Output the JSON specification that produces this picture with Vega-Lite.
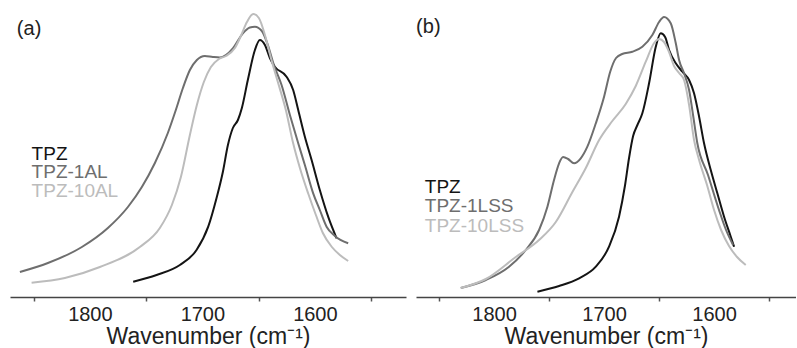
{
  "$schema": "https://vega.github.io/schema/vega-lite/v6.json",
  "padding": {"left": 10, "top": 0, "right": 0, "bottom": 0},
  "background": "white",
  "config": {
    "view": {"stroke": null},
    "font": "Liberation Sans",
    "axis": {"grid": false}
  },
  "spacing": 10,
  "resolve": {"scale": {"color": "independent"}},
  "datasets": {
    "a": [
      {"s": "TPZ", "w": 1761.5, "a": 0.153},
      {"s": "TPZ", "w": 1740.7, "a": 0.22},
      {"s": "TPZ", "w": 1720, "a": 0.32},
      {"s": "TPZ", "w": 1705.2, "a": 0.47},
      {"s": "TPZ", "w": 1694.8, "a": 0.703},
      {"s": "TPZ", "w": 1687.4, "a": 0.99},
      {"s": "TPZ", "w": 1681.8, "a": 1.25},
      {"s": "TPZ", "w": 1677.3, "a": 1.52},
      {"s": "TPZ", "w": 1672.9, "a": 1.69},
      {"s": "TPZ", "w": 1668.4, "a": 1.77},
      {"s": "TPZ", "w": 1664.9, "a": 1.89},
      {"s": "TPZ", "w": 1659.6, "a": 2.17},
      {"s": "TPZ", "w": 1653.3, "a": 2.47},
      {"s": "TPZ", "w": 1648.9, "a": 2.57},
      {"s": "TPZ", "w": 1644.4, "a": 2.52},
      {"s": "TPZ", "w": 1640, "a": 2.39},
      {"s": "TPZ", "w": 1635.6, "a": 2.303},
      {"s": "TPZ", "w": 1625.2, "a": 2.203},
      {"s": "TPZ", "w": 1619.3, "a": 2.07},
      {"s": "TPZ", "w": 1614.8, "a": 1.87},
      {"s": "TPZ", "w": 1608.9, "a": 1.603},
      {"s": "TPZ", "w": 1602.9, "a": 1.37},
      {"s": "TPZ", "w": 1595.6, "a": 1.07},
      {"s": "TPZ", "w": 1588.2, "a": 0.803},
      {"s": "TPZ", "w": 1580.7, "a": 0.587},
      {"s": "TPZ-1AL", "w": 1862.2, "a": 0.25},
      {"s": "TPZ-1AL", "w": 1837.3, "a": 0.34},
      {"s": "TPZ-1AL", "w": 1807.1, "a": 0.5},
      {"s": "TPZ-1AL", "w": 1784, "a": 0.69},
      {"s": "TPZ-1AL", "w": 1766.2, "a": 0.9},
      {"s": "TPZ-1AL", "w": 1753.8, "a": 1.1},
      {"s": "TPZ-1AL", "w": 1742.2, "a": 1.34},
      {"s": "TPZ-1AL", "w": 1730.7, "a": 1.64},
      {"s": "TPZ-1AL", "w": 1723.6, "a": 1.87},
      {"s": "TPZ-1AL", "w": 1717.3, "a": 2.09},
      {"s": "TPZ-1AL", "w": 1711.1, "a": 2.27},
      {"s": "TPZ-1AL", "w": 1704.9, "a": 2.37},
      {"s": "TPZ-1AL", "w": 1697.8, "a": 2.41},
      {"s": "TPZ-1AL", "w": 1690.7, "a": 2.4},
      {"s": "TPZ-1AL", "w": 1684.4, "a": 2.395},
      {"s": "TPZ-1AL", "w": 1679.1, "a": 2.42},
      {"s": "TPZ-1AL", "w": 1672.9, "a": 2.487},
      {"s": "TPZ-1AL", "w": 1664, "a": 2.637},
      {"s": "TPZ-1AL", "w": 1657.8, "a": 2.695},
      {"s": "TPZ-1AL", "w": 1653.3, "a": 2.703},
      {"s": "TPZ-1AL", "w": 1647.1, "a": 2.66},
      {"s": "TPZ-1AL", "w": 1641.8, "a": 2.52},
      {"s": "TPZ-1AL", "w": 1636.4, "a": 2.32},
      {"s": "TPZ-1AL", "w": 1629.6, "a": 2.12},
      {"s": "TPZ-1AL", "w": 1622.2, "a": 1.82},
      {"s": "TPZ-1AL", "w": 1614.8, "a": 1.537},
      {"s": "TPZ-1AL", "w": 1608.9, "a": 1.32},
      {"s": "TPZ-1AL", "w": 1601.5, "a": 1.037},
      {"s": "TPZ-1AL", "w": 1595.6, "a": 0.87},
      {"s": "TPZ-1AL", "w": 1589.6, "a": 0.703},
      {"s": "TPZ-1AL", "w": 1582.2, "a": 0.61},
      {"s": "TPZ-1AL", "w": 1570.4, "a": 0.537},
      {"s": "TPZ-10AL", "w": 1851.8, "a": 0.143},
      {"s": "TPZ-10AL", "w": 1822.2, "a": 0.19},
      {"s": "TPZ-10AL", "w": 1791.1, "a": 0.3},
      {"s": "TPZ-10AL", "w": 1755.6, "a": 0.5},
      {"s": "TPZ-10AL", "w": 1737.8, "a": 0.69},
      {"s": "TPZ-10AL", "w": 1727.1, "a": 0.92},
      {"s": "TPZ-10AL", "w": 1719.1, "a": 1.2},
      {"s": "TPZ-10AL", "w": 1711.1, "a": 1.62},
      {"s": "TPZ-10AL", "w": 1704.9, "a": 1.92},
      {"s": "TPZ-10AL", "w": 1698.7, "a": 2.15},
      {"s": "TPZ-10AL", "w": 1692.4, "a": 2.3},
      {"s": "TPZ-10AL", "w": 1685.3, "a": 2.38},
      {"s": "TPZ-10AL", "w": 1679.1, "a": 2.41},
      {"s": "TPZ-10AL", "w": 1671.1, "a": 2.49},
      {"s": "TPZ-10AL", "w": 1665.8, "a": 2.61},
      {"s": "TPZ-10AL", "w": 1660.4, "a": 2.75},
      {"s": "TPZ-10AL", "w": 1654.8, "a": 2.83},
      {"s": "TPZ-10AL", "w": 1649.8, "a": 2.79},
      {"s": "TPZ-10AL", "w": 1644.4, "a": 2.62},
      {"s": "TPZ-10AL", "w": 1639.1, "a": 2.39},
      {"s": "TPZ-10AL", "w": 1632.9, "a": 2.15},
      {"s": "TPZ-10AL", "w": 1625.8, "a": 1.87},
      {"s": "TPZ-10AL", "w": 1619.3, "a": 1.537},
      {"s": "TPZ-10AL", "w": 1613.3, "a": 1.29},
      {"s": "TPZ-10AL", "w": 1606, "a": 1.037},
      {"s": "TPZ-10AL", "w": 1599.1, "a": 0.82},
      {"s": "TPZ-10AL", "w": 1592.9, "a": 0.64},
      {"s": "TPZ-10AL", "w": 1584.9, "a": 0.5},
      {"s": "TPZ-10AL", "w": 1577.8, "a": 0.42},
      {"s": "TPZ-10AL", "w": 1570.4, "a": 0.36}
    ],
    "aLab": [
      {"s": "TPZ", "w": 1851.8, "a": 1.37},
      {"s": "TPZ-1AL", "w": 1851.8, "a": 1.187},
      {"s": "TPZ-10AL", "w": 1851.8, "a": 1.003}
    ],
    "aTag": [{"t": "(a)", "w": 1864.9, "a": 2.68}],
    "b": [
      {"s": "TPZ", "w": 1760.6, "a": 0.053},
      {"s": "TPZ", "w": 1740.9, "a": 0.11},
      {"s": "TPZ", "w": 1722.7, "a": 0.187},
      {"s": "TPZ", "w": 1707.5, "a": 0.303},
      {"s": "TPZ", "w": 1695.5, "a": 0.503},
      {"s": "TPZ", "w": 1686.4, "a": 0.803},
      {"s": "TPZ", "w": 1680.9, "a": 1.12},
      {"s": "TPZ", "w": 1677.3, "a": 1.39},
      {"s": "TPZ", "w": 1673.6, "a": 1.61},
      {"s": "TPZ", "w": 1669.7, "a": 1.72},
      {"s": "TPZ", "w": 1665.2, "a": 1.837},
      {"s": "TPZ", "w": 1659.1, "a": 2.137},
      {"s": "TPZ", "w": 1653, "a": 2.503},
      {"s": "TPZ", "w": 1648.5, "a": 2.637},
      {"s": "TPZ", "w": 1644.5, "a": 2.6},
      {"s": "TPZ", "w": 1640.9, "a": 2.47},
      {"s": "TPZ", "w": 1634.8, "a": 2.337},
      {"s": "TPZ", "w": 1628.8, "a": 2.253},
      {"s": "TPZ", "w": 1622.7, "a": 2.17},
      {"s": "TPZ", "w": 1618.2, "a": 2.037},
      {"s": "TPZ", "w": 1613.6, "a": 1.803},
      {"s": "TPZ", "w": 1609.1, "a": 1.537},
      {"s": "TPZ", "w": 1603, "a": 1.27},
      {"s": "TPZ", "w": 1597, "a": 1.037},
      {"s": "TPZ", "w": 1590.9, "a": 0.803},
      {"s": "TPZ", "w": 1584.8, "a": 0.603},
      {"s": "TPZ", "w": 1581.8, "a": 0.503},
      {"s": "TPZ-1LSS", "w": 1830.3, "a": 0.09},
      {"s": "TPZ-1LSS", "w": 1807.5, "a": 0.17},
      {"s": "TPZ-1LSS", "w": 1786.4, "a": 0.303},
      {"s": "TPZ-1LSS", "w": 1771.2, "a": 0.47},
      {"s": "TPZ-1LSS", "w": 1759.1, "a": 0.67},
      {"s": "TPZ-1LSS", "w": 1751.5, "a": 0.903},
      {"s": "TPZ-1LSS", "w": 1745.5, "a": 1.17},
      {"s": "TPZ-1LSS", "w": 1740.9, "a": 1.337},
      {"s": "TPZ-1LSS", "w": 1737.3, "a": 1.4},
      {"s": "TPZ-1LSS", "w": 1732.7, "a": 1.38},
      {"s": "TPZ-1LSS", "w": 1727.3, "a": 1.337},
      {"s": "TPZ-1LSS", "w": 1721.2, "a": 1.387},
      {"s": "TPZ-1LSS", "w": 1715.2, "a": 1.503},
      {"s": "TPZ-1LSS", "w": 1707.5, "a": 1.737},
      {"s": "TPZ-1LSS", "w": 1700, "a": 2.003},
      {"s": "TPZ-1LSS", "w": 1694.5, "a": 2.25},
      {"s": "TPZ-1LSS", "w": 1689.1, "a": 2.39},
      {"s": "TPZ-1LSS", "w": 1683.6, "a": 2.43},
      {"s": "TPZ-1LSS", "w": 1674.3, "a": 2.453},
      {"s": "TPZ-1LSS", "w": 1665.2, "a": 2.503},
      {"s": "TPZ-1LSS", "w": 1656.1, "a": 2.62},
      {"s": "TPZ-1LSS", "w": 1650, "a": 2.75},
      {"s": "TPZ-1LSS", "w": 1645.5, "a": 2.8},
      {"s": "TPZ-1LSS", "w": 1639.4, "a": 2.737},
      {"s": "TPZ-1LSS", "w": 1634.8, "a": 2.537},
      {"s": "TPZ-1LSS", "w": 1631.8, "a": 2.37},
      {"s": "TPZ-1LSS", "w": 1627.3, "a": 2.237},
      {"s": "TPZ-1LSS", "w": 1622.7, "a": 2.07},
      {"s": "TPZ-1LSS", "w": 1619.1, "a": 1.82},
      {"s": "TPZ-1LSS", "w": 1615.2, "a": 1.537},
      {"s": "TPZ-1LSS", "w": 1605.5, "a": 1.22},
      {"s": "TPZ-1LSS", "w": 1595.5, "a": 0.87},
      {"s": "TPZ-1LSS", "w": 1589.1, "a": 0.67},
      {"s": "TPZ-1LSS", "w": 1582.7, "a": 0.52},
      {"s": "TPZ-10LSS", "w": 1830.3, "a": 0.09},
      {"s": "TPZ-10LSS", "w": 1807.5, "a": 0.18},
      {"s": "TPZ-10LSS", "w": 1780.3, "a": 0.4},
      {"s": "TPZ-10LSS", "w": 1759.1, "a": 0.57},
      {"s": "TPZ-10LSS", "w": 1743.9, "a": 0.75},
      {"s": "TPZ-10LSS", "w": 1728.8, "a": 1.05},
      {"s": "TPZ-10LSS", "w": 1716.6, "a": 1.29},
      {"s": "TPZ-10LSS", "w": 1704.5, "a": 1.57},
      {"s": "TPZ-10LSS", "w": 1692.5, "a": 1.76},
      {"s": "TPZ-10LSS", "w": 1680.3, "a": 1.93},
      {"s": "TPZ-10LSS", "w": 1671.2, "a": 2.11},
      {"s": "TPZ-10LSS", "w": 1662.1, "a": 2.353},
      {"s": "TPZ-10LSS", "w": 1654.5, "a": 2.54},
      {"s": "TPZ-10LSS", "w": 1650, "a": 2.58},
      {"s": "TPZ-10LSS", "w": 1645.5, "a": 2.55},
      {"s": "TPZ-10LSS", "w": 1640.9, "a": 2.45},
      {"s": "TPZ-10LSS", "w": 1636.4, "a": 2.31},
      {"s": "TPZ-10LSS", "w": 1631.8, "a": 2.24},
      {"s": "TPZ-10LSS", "w": 1627.3, "a": 2.17},
      {"s": "TPZ-10LSS", "w": 1622.7, "a": 1.92},
      {"s": "TPZ-10LSS", "w": 1618.2, "a": 1.57},
      {"s": "TPZ-10LSS", "w": 1613.6, "a": 1.37},
      {"s": "TPZ-10LSS", "w": 1606.4, "a": 1.12},
      {"s": "TPZ-10LSS", "w": 1600, "a": 0.87},
      {"s": "TPZ-10LSS", "w": 1593.6, "a": 0.67},
      {"s": "TPZ-10LSS", "w": 1586.4, "a": 0.51},
      {"s": "TPZ-10LSS", "w": 1579.1, "a": 0.4},
      {"s": "TPZ-10LSS", "w": 1571.2, "a": 0.32}
    ],
    "bLab": [
      {"s": "TPZ", "w": 1863, "a": 1.037},
      {"s": "TPZ-1LSS", "w": 1863, "a": 0.853},
      {"s": "TPZ-10LSS", "w": 1863, "a": 0.653}
    ],
    "bTag": [{"t": "(b)", "w": 1870.9, "a": 2.705}]
  },
  "hconcat": [
    {
      "width": 396,
      "height": 297,
      "encoding": {
        "x": {
          "field": "w", "type": "quantitative",
          "scale": {"domain": [1519, 1871], "reverse": true, "nice": false, "zero": false},
          "axis": {
            "title": "Wavenumber (cm⁻¹)",
            "values": [1850, 1800, 1750, 1700, 1650, 1600, 1550],
            "format": "d",
            "labelExpr": "datum.value % 100 === 0 ? datum.label : ''",
            "tickOpacity": {"condition": {"test": "datum.value % 100 === 0", "value": 0}, "value": 1},
            "tickSize": 4, "tickWidth": 1.5, "tickColor": "#555",
            "domainColor": "#444", "domainWidth": 1.5,
            "labelFontSize": 20, "labelColor": "#222", "labelPadding": 3,
            "labelOverlap": false, "labelFlush": false,
            "titleFontSize": 23, "titleFontWeight": "normal", "titleColor": "#222", "titlePadding": 1
          }
        },
        "y": {
          "field": "a", "type": "quantitative",
          "scale": {"domain": [0, 2.97], "nice": false, "zero": false},
          "axis": null
        }
      },
      "layer": [
        {
          "data": {"name": "a"},
          "mark": {"type": "line", "interpolate": "monotone", "strokeWidth": 2},
          "encoding": {
            "color": {"field": "s", "type": "nominal", "legend": null,
              "scale": {"domain": ["TPZ", "TPZ-1AL", "TPZ-10AL"], "range": ["#141414", "#6e6e6e", "#bcbcbc"]}},
            "detail": {"field": "s"}
          }
        },
        {
          "data": {"name": "aLab"},
          "mark": {"type": "text", "align": "left", "baseline": "alphabetic", "fontSize": 19},
          "encoding": {
            "text": {"field": "s"},
            "color": {"field": "s", "type": "nominal", "legend": null,
              "scale": {"domain": ["TPZ", "TPZ-1AL", "TPZ-10AL"], "range": ["#141414", "#6e6e6e", "#bcbcbc"]}}
          }
        },
        {
          "data": {"name": "aTag"},
          "mark": {"type": "text", "align": "left", "baseline": "middle", "fontSize": 20, "color": "#222"},
          "encoding": {"text": {"field": "t"}}
        }
      ]
    },
    {
      "width": 380,
      "height": 297,
      "encoding": {
        "x": {
          "field": "w", "type": "quantitative",
          "scale": {"domain": [1525.5, 1871], "reverse": true, "nice": false, "zero": false},
          "axis": {
            "title": "Wavenumber (cm⁻¹)",
            "values": [1850, 1800, 1750, 1700, 1650, 1600, 1550],
            "format": "d",
            "labelExpr": "datum.value % 100 === 0 ? datum.label : ''",
            "tickOpacity": {"condition": {"test": "datum.value % 100 === 0", "value": 0}, "value": 1},
            "tickSize": 4, "tickWidth": 1.5, "tickColor": "#555",
            "domainColor": "#444", "domainWidth": 1.5,
            "labelFontSize": 20, "labelColor": "#222", "labelPadding": 3,
            "labelOverlap": false, "labelFlush": false,
            "titleFontSize": 23, "titleFontWeight": "normal", "titleColor": "#222", "titlePadding": 1
          }
        },
        "y": {
          "field": "a", "type": "quantitative",
          "scale": {"domain": [0, 2.97], "nice": false, "zero": false},
          "axis": null
        }
      },
      "layer": [
        {
          "data": {"name": "b"},
          "mark": {"type": "line", "interpolate": "monotone", "strokeWidth": 2},
          "encoding": {
            "color": {"field": "s", "type": "nominal", "legend": null,
              "scale": {"domain": ["TPZ", "TPZ-1LSS", "TPZ-10LSS"], "range": ["#141414", "#6e6e6e", "#bcbcbc"]}},
            "detail": {"field": "s"}
          }
        },
        {
          "data": {"name": "bLab"},
          "mark": {"type": "text", "align": "left", "baseline": "alphabetic", "fontSize": 19},
          "encoding": {
            "text": {"field": "s"},
            "color": {"field": "s", "type": "nominal", "legend": null,
              "scale": {"domain": ["TPZ", "TPZ-1LSS", "TPZ-10LSS"], "range": ["#141414", "#6e6e6e", "#bcbcbc"]}}
          }
        },
        {
          "data": {"name": "bTag"},
          "mark": {"type": "text", "align": "left", "baseline": "middle", "fontSize": 20, "color": "#222"},
          "encoding": {"text": {"field": "t"}}
        }
      ]
    }
  ]
}
